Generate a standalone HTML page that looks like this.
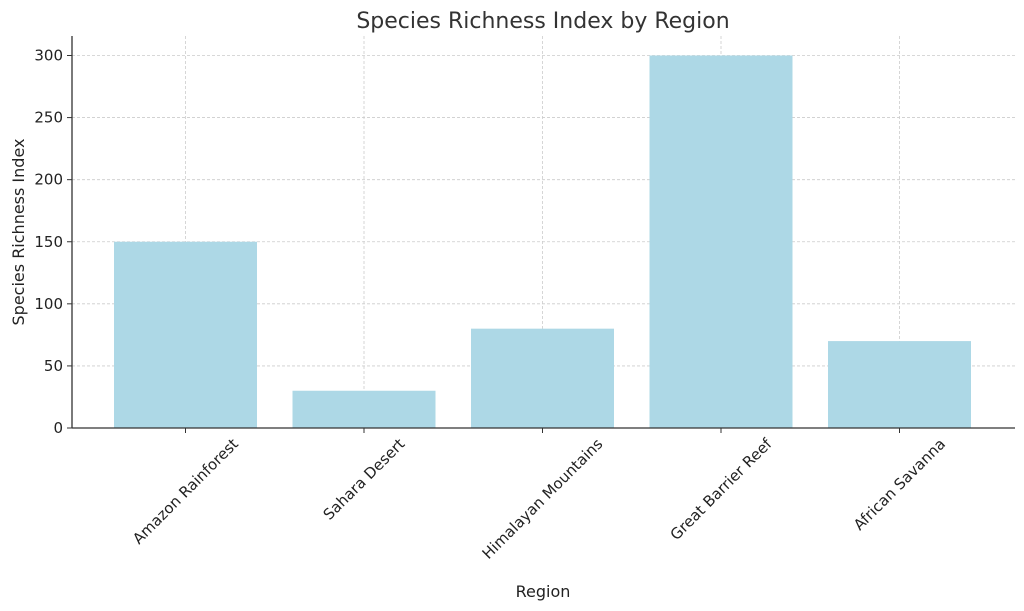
<!DOCTYPE html>
<html><head><meta charset="utf-8"><style>
body{margin:0;background:#fff}
svg{display:block;font-family:"DejaVu Sans","Liberation Sans",sans-serif}
</style></head><body>
<svg id="chart" width="1024" height="611">
<text x="543" y="28" text-anchor="middle" font-size="22" fill="#333">Species Richness Index by Region</text>
<text transform="translate(24,232) rotate(-90)" text-anchor="middle" font-size="16" fill="#222">Species Richness Index</text>
<text x="543" y="597" text-anchor="middle" font-size="16" fill="#222">Region</text>
<g id="grid"></g><g id="bars"></g><g id="axes"></g>
</svg>
<script>
const categories=["Amazon Rainforest","Sahara Desert","Himalayan Mountains","Great Barrier Reef","African Savanna"];
const values=[150,30,80,300,70];
const yTicks=[0,50,100,150,200,250,300];
const NS="http://www.w3.org/2000/svg";
const L=72,R=1015,T=36,B=428;
const step=178.5, first=185.5, bw=143;
const x=i=>first+i*step;
const y=v=>B-(v/300)*(B-55.5);
function mk(tag,attrs,parent){const e=document.createElementNS(NS,tag);for(const k in attrs)e.setAttribute(k,attrs[k]);parent.appendChild(e);return e;}
const grid=document.getElementById('grid'),bars=document.getElementById('bars'),axes=document.getElementById('axes');
yTicks.forEach(t=>{
  const l=mk('line',{x1:L,x2:R,y1:y(t),y2:y(t),stroke:'#ccc','stroke-dasharray':'3,2','stroke-width':0.8},grid);
  
  
  const k=mk('line',{x1:L-5,x2:L,y1:y(t),y2:y(t),stroke:'#333'},axes);
  
  
  const s=mk('text',{x:L-9,y:y(t)+5,'text-anchor':'end','font-size':15,fill:'#222'},axes);
  s.textContent=t;
  
  
});
categories.forEach((c,i)=>{
  const g=mk('line',{x1:x(i),x2:x(i),y1:T,y2:B,stroke:'#ccc','stroke-dasharray':'3,2','stroke-width':0.8},grid);
  
  
  const r=mk('rect',{x:x(i)-bw/2,y:y(values[i]),width:bw,height:B-y(values[i]),fill:'#add8e6'},bars);
  
  
  const k=mk('line',{x1:x(i),x2:x(i),y1:B,y2:B+5,stroke:'#333'},axes);
  
  
  const t=mk('text',{'text-anchor':'middle','dominant-baseline':'central','font-size':15,fill:'#222'},axes);
  t.textContent=c;
  
  
  const len=t.getComputedTextLength();
  const h=(len+15)*0.7071/2;
  const cy=436+h;
  t.setAttribute('transform','translate('+x(i)+','+cy+') rotate(-45)');
});
const sp1=mk('line',{x1:L,x2:L,y1:T,y2:B,stroke:'#333','stroke-width':1.3},axes);


const sp2=mk('line',{x1:L,x2:R,y1:B,y2:B,stroke:'#333','stroke-width':1.3},axes);


</script>
</body></html>
